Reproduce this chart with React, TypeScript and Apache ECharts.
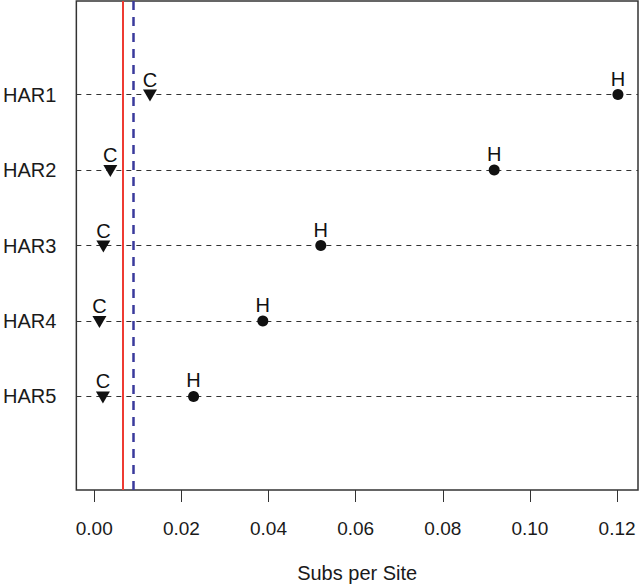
import React, { useEffect, useRef } from "react";
import * as echarts from "echarts";

const categories = ["HAR1", "HAR2", "HAR3", "HAR4", "HAR5"];
const humanValues = [0.1202, 0.0918, 0.052, 0.0387, 0.0228];
const chimpValues = [0.0128, 0.0037, 0.0021, 0.0012, 0.002];
const redLineValue = 0.00655;
const blueLineValue = 0.00889;
const xTicks = [0, 0.02, 0.04, 0.06, 0.08, 0.1, 0.12];

const FONT = "'Liberation Sans', Arial, Helvetica, sans-serif";

export default function App() {
  const ref = useRef<HTMLDivElement>(null);
  useEffect(() => {
    if (!ref.current) return;
    const chart = echarts.init(ref.current, null, { renderer: "svg" });
    const rowIdx = categories.map((_, i) => i + 1);
    chart.setOption({
      animation: false,
      backgroundColor: "#fff",
      textStyle: { fontFamily: FONT },
      grid: {
        left: 75,
        right: 2,
        top: 1,
        bottom: 96,
        show: true,
        borderColor: "#333",
        borderWidth: 1.5,
        backgroundColor: "transparent",
      },
      xAxis: {
        type: "value",
        min: -0.0041,
        max: 0.1248,
        splitLine: { show: false },
        axisLine: { show: false, onZero: false },
        axisTick: {
          show: true,
          inside: false,
          length: 12,
          lineStyle: { color: "#333", width: 1 },
          customValues: xTicks,
        },
        axisLabel: {
          customValues: xTicks,
          formatter: (v: number) => v.toFixed(2),
          fontSize: 19,
          color: "#1a1a1a",
          fontFamily: FONT,
          margin: 29,
        },
        name: "Subs per Site",
        nameLocation: "middle",
        nameGap: 73,
        nameTextStyle: { fontSize: 20, color: "#1a1a1a", fontFamily: FONT },
      },
      yAxis: {
        type: "value",
        inverse: true,
        min: -0.24,
        max: 6.24,
        splitLine: { show: false },
        axisLine: { show: false, onZero: false },
        axisTick: { show: false },
        axisLabel: {
          customValues: rowIdx,
          formatter: (v: number) => categories[Math.round(v) - 1] ?? "",
          fontSize: 20,
          color: "#1a1a1a",
          fontFamily: FONT,
          margin: 20,
        },
      },
      series: [
        {
          type: "scatter",
          name: "lines",
          data: [],
          silent: true,
          markLine: {
            silent: true,
            symbol: "none",
            precision: 6,
            label: { show: false },
            data: [
              ...rowIdx.map((r) => ({
                yAxis: r,
                lineStyle: { color: "#333", width: 1, type: [5, 5] },
              })),
              {
                xAxis: redLineValue,
                lineStyle: { color: "#ee3b33", width: 2, type: "solid" },
              },
              {
                xAxis: blueLineValue,
                lineStyle: { color: "#3a3a9c", width: 2.5, type: [9, 7] },
              },
            ],
          },
        },
        {
          type: "scatter",
          name: "Chimp",
          symbol: "path://M0,0 L14,0 L7,12 Z",
          symbolSize: [14, 12],
          symbolOffset: [0, 1],
          itemStyle: { color: "#111", opacity: 1 },
          data: chimpValues.map((v, i) => [v, i + 1]),
          label: {
            show: true,
            position: "top",
            distance: 0,
            formatter: "C",
            fontSize: 20,
            color: "#111",
            fontFamily: FONT,
          },
          z: 5,
        },
        {
          type: "scatter",
          name: "Human",
          symbol: "circle",
          symbolSize: 11,
          itemStyle: { color: "#111", opacity: 1 },
          data: humanValues.map((v, i) => [v, i + 1]),
          label: {
            show: true,
            position: "top",
            distance: 0.5,
            formatter: "H",
            fontSize: 20,
            color: "#111",
            fontFamily: FONT,
          },
          z: 5,
        },
      ],
    });
    return () => chart.dispose();
  }, []);
  return (
    <div
      ref={ref}
      style={{ position: "fixed", left: 0, top: 0, width: 640, height: 588 }}
    />
  );
}
